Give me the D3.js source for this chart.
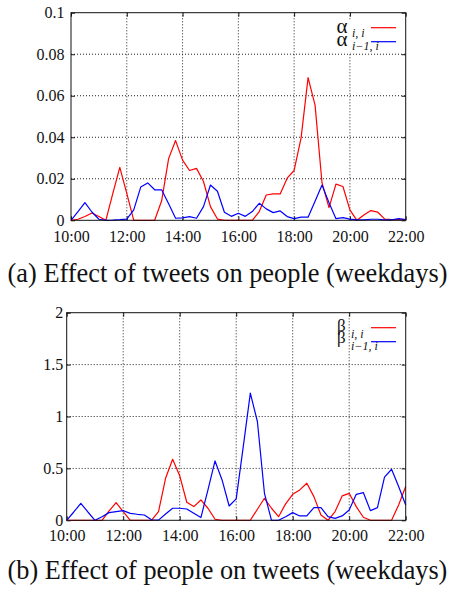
<!DOCTYPE html>
<html><head><meta charset="utf-8">
<script src="https://cdn.jsdelivr.net/npm/d3@7"></script>
<style>
html,body{margin:0;padding:0;background:#fff;}
svg{display:block;}
</style></head><body>
<svg id="c" width="449" height="590"></svg>
<script>
const SERIF = '"Liberation Serif"';
// time axis: 10:00 to 22:00 at 15-minute steps (hours)
const hours = d3.range(49).map(i => 10 + i * 0.25);
const xTickHours = [10, 12, 14, 16, 18, 20, 22];
const xTickLabels = ["10:00", "12:00", "14:00", "16:00", "18:00", "20:00", "22:00"];

// (a) alpha
const alphaII = [0,0.0005,0.0018,0.0035,0.0018,0,0.013,0.0255,0.013,
  0,0,0,0,0.0094,0.0297,0.0384,0.029,
  0.024,0.025,0.0187,0.0066,0.0006,0,0,0,
  0,0,0.0042,0.0122,0.0127,0.0127,0.0203,0.024,
  0.0397,0.0687,0.0555,0.018,0.0061,0.0174,0.0163,0.005,
  0,0.0026,0.0047,0.0039,0.0006,0.0003,0.0003,0.0002];
const alphaI1I = [0,0.0042,0.0085,0.004,0.0005,0,0.0001,0.0003,0.0006,
  0.005,0.016,0.018,0.0147,0.0147,0.008,0.001,0.0012,
  0.0018,0.001,0.0066,0.017,0.014,0.0039,0.0019,0.0034,
  0.0019,0.0042,0.0082,0.0055,0.0037,0.0045,0.0018,0.0008,
  0.0015,0.0015,0.0092,0.017,0.0085,0.0008,0.0013,0.0006,
  0.0002,0.0002,0.0005,0.0005,0.0002,0.0002,0.0008,0.0003];
const alphaTicks = [0, 0.02, 0.04, 0.06, 0.08, 0.1];
const alphaTickLabels = ["0", "0.02", "0.04", "0.06", "0.08", "0.1"];

// (b) beta
const betaII = [0,0,0,0,0,0,0.09,0.17,0.083,
  0,0,0,0,0.083,0.405,0.588,0.43,
  0.174,0.132,0.196,0.116,0.01,0,0,0,
  0,0,0.106,0.212,0.116,0.035,0.158,0.25,
  0.293,0.357,0.228,0.051,0,0.084,0.235,0.26,
  0.132,0.029,0,0,0,0,0.148,0.325];
const betaI1I = [0,0.08,0.164,0.08,0,0.035,0.074,0.083,0.093,
  0.067,0.058,0.051,0.005,0.002,0.06,0.116,0.116,
  0.109,0.068,0.026,0.293,0.572,0.389,0.138,0.206,
  0.71,1.225,0.952,0.26,0,0,0.035,0.074,
  0.042,0.042,0.122,0.122,0.035,0.019,0.042,0.1,
  0.25,0.267,0.093,0.122,0.415,0.492,0.325,0.148];
const betaTicks = [0, 0.5, 1, 1.5, 2];
const betaTickLabels = ["0", "0.5", "1", "1.5", "2"];

const captions = ["(a) Effect of tweets on people (weekdays)", "(b) Effect of people on tweets (weekdays)"];

const svg = d3.select("#c");

function panel(cfg) {
  const g = svg.append("g");
  const x = d3.scaleLinear().domain([10, 22]).range([cfg.left, cfg.right]);
  const y = d3.scaleLinear().domain([0, cfg.ymax]).range([cfg.bottom, cfg.top]);

  // grid
  g.selectAll(".gx").data(xTickHours.slice(1, -1)).enter().append("line")
    .attr("x1", d => x(d)).attr("x2", d => x(d)).attr("y1", cfg.bottom).attr("y2", cfg.top)
    .attr("stroke", "#222").attr("stroke-width", 1).attr("stroke-dasharray", "1,2");
  g.selectAll(".gy").data(cfg.yTicks.slice(1, -1)).enter().append("line")
    .attr("y1", d => y(d)).attr("y2", d => y(d)).attr("x1", cfg.left).attr("x2", cfg.right)
    .attr("stroke", "#222").attr("stroke-width", 1).attr("stroke-dasharray", "1,2");

  if (cfg.keyBg) {
    g.append("rect").attr("x", cfg.right - 70).attr("y", cfg.top + 7).attr("width", 66).attr("height", 33).attr("fill", "#fff");
  }

  const xAxis = d3.axisBottom(x).tickValues(xTickHours).tickFormat((d, i) => xTickLabels[i]).tickSizeInner(-4).tickSizeOuter(0).tickPadding(8);
  const ax = g.append("g").attr("transform", `translate(0,${cfg.bottom})`).call(xAxis);
  ax.select(".domain").remove();
  ax.selectAll("line").attr("stroke", "#111");
  ax.selectAll("text").style("font-family", SERIF).style("font-size", "16px").attr("fill", "#111").attr("y", cfg.xLabelY).attr("dy", null);

  const xTop = d3.axisTop(x).tickValues(xTickHours).tickFormat("").tickSizeInner(-4).tickSizeOuter(0);
  const at = g.append("g").attr("transform", `translate(0,${cfg.top})`).call(xTop);
  at.select(".domain").remove();
  at.selectAll("line").attr("stroke", "#111");

  const yAxis = d3.axisLeft(y).tickValues(cfg.yTicks).tickFormat((d, i) => cfg.yLabels[i]).tickSizeInner(-4).tickSizeOuter(0).tickPadding(cfg.yPad);
  const ay = g.append("g").attr("transform", `translate(${cfg.left},0)`).call(yAxis);
  ay.select(".domain").remove();
  ay.selectAll("line").attr("stroke", "#111");
  ay.selectAll("text").style("font-family", SERIF).style("font-size", "16px").attr("fill", "#111");

  const yRight = d3.axisRight(y).tickValues(cfg.yTicks).tickFormat("").tickSizeInner(-4).tickSizeOuter(0);
  const ar = g.append("g").attr("transform", `translate(${cfg.right},0)`).call(yRight);
  ar.select(".domain").remove();
  ar.selectAll("line").attr("stroke", "#111");

  const line = d3.line().x((d, i) => x(hours[i])).y(d => y(d));
  g.append("path").datum(cfg.red).attr("d", line).attr("fill", "none").attr("stroke", "#ff0000").attr("stroke-width", 1.2).attr("stroke-linejoin", "round");
  g.append("path").datum(cfg.blue).attr("d", line).attr("fill", "none").attr("stroke", "#0000ff").attr("stroke-width", 1.2).attr("stroke-linejoin", "round");

  g.append("rect").attr("x", cfg.left).attr("y", cfg.top).attr("width", cfg.right - cfg.left).attr("height", cfg.bottom - cfg.top)
    .attr("fill", "none").attr("stroke", "#111").attr("stroke-width", 1);

  const k = cfg.key;
  g.append("line").attr("x1", 371).attr("x2", 396).attr("y1", k.y1).attr("y2", k.y1).attr("stroke", "#ff0000").attr("stroke-width", 1.2);
  g.append("line").attr("x1", 371).attr("x2", 396).attr("y1", k.y2).attr("y2", k.y2).attr("stroke", "#0000ff").attr("stroke-width", 1.2);
  const txt = (xx, yy, size, s, italic) => g.append("text").attr("x", xx).attr("y", yy)
    .style("font-family", SERIF).style("font-size", size + "px").style("font-style", italic ? "italic" : "normal")
    .attr("fill", "#111").text(s);
  txt(k.gx, k.g1, k.gs, k.glyph, false);
  txt(k.gx, k.g2, k.gs, k.glyph, false);
  txt(k.sx, k.s1, 12, "i, i", true);
  txt(k.sx, k.s2, 12, "i\u22121, i", true);

  const cap = svg.append("text").attr("x", 227.5).attr("y", cfg.capY).attr("text-anchor", "middle")
    .style("font-family", SERIF).style("font-size", "24px").attr("fill", "#111").text(cfg.caption);
  const w = cap.node().getComputedTextLength();
  cap.style("font-size", (24 * cfg.capW / w) + "px");
}

panel({left: 71, right: 405.7, top: 12.7, bottom: 220.3, ymax: 0.1,
  yTicks: alphaTicks, yLabels: alphaTickLabels, yPad: 6.5, xLabelY: 21.4,
  red: alphaII, blue: alphaI1I, keyBg: true,
  key: {y1: 27.7, y2: 41.7, gx: 336.5, g1: 33.3, g2: 45.7, gs: 21, glyph: "\u03b1", sx: 352, s1: 36.7, s2: 50},
  caption: captions[0], capY: 281.5, capW: 440});

panel({left: 66.7, right: 405.7, top: 312.7, bottom: 520.3, ymax: 2,
  yTicks: betaTicks, yLabels: betaTickLabels, yPad: 3.5, xLabelY: 20.7,
  red: betaII, blue: betaI1I, keyBg: false,
  key: {y1: 327.7, y2: 341.7, gx: 337, g1: 331, g2: 343, gs: 17, glyph: "\u03b2", sx: 351, s1: 337.7, s2: 350},
  caption: captions[1], capY: 579, capW: 440});
</script>
</body></html>
